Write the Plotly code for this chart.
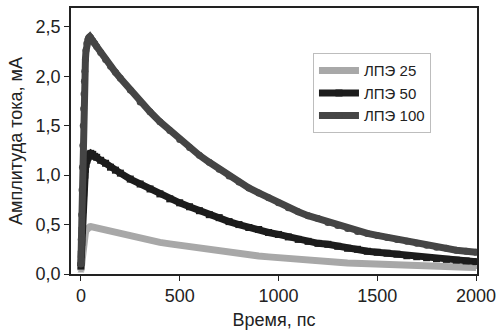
import plotly.graph_objects as go

time_ps = [0, 2, 4, 6, 8, 10, 12, 14, 16, 18, 20, 23, 26, 30, 35, 40, 45, 50,
           60, 70, 80, 100, 125, 150, 175, 200, 250, 300, 350, 400, 450, 500,
           550, 600, 650, 700, 750, 800, 850, 900, 950, 1000, 1050, 1100, 1150,
           1200, 1250, 1300, 1350, 1400, 1450, 1500, 1550, 1600, 1650, 1700,
           1750, 1800, 1850, 1900, 1950, 2000]

let_100 = [0.10, 0.35, 0.60, 0.85, 1.08, 1.30, 1.50, 1.67, 1.82, 1.95, 2.05, 2.17,
           2.26, 2.33, 2.37, 2.39, 2.40, 2.39,
           2.36, 2.33, 2.30, 2.24, 2.17, 2.10, 2.04, 1.98, 1.86, 1.74, 1.64, 1.54,
           1.45, 1.36, 1.28, 1.20, 1.13, 1.06, 0.99, 0.93, 0.87, 0.82, 0.77, 0.72,
           0.67, 0.63, 0.59, 0.56, 0.52, 0.49, 0.46, 0.43, 0.41, 0.39, 0.37, 0.35,
           0.33, 0.31, 0.29, 0.27, 0.26, 0.24, 0.23, 0.22]

let_50 = [0.08, 0.20, 0.32, 0.44, 0.55, 0.65, 0.74, 0.82, 0.89, 0.95, 1.00, 1.06,
          1.11, 1.15, 1.18, 1.20, 1.21, 1.22,
          1.21, 1.19, 1.18, 1.15, 1.12, 1.08, 1.05, 1.02, 0.96, 0.91, 0.86, 0.81,
          0.76, 0.72, 0.68, 0.64, 0.60, 0.57, 0.53, 0.50, 0.47, 0.45, 0.42, 0.40,
          0.375, 0.35, 0.33, 0.31, 0.30, 0.28, 0.26, 0.25, 0.23, 0.22, 0.21, 0.20,
          0.185, 0.175, 0.165, 0.155, 0.148, 0.14, 0.132, 0.125]

let_25 = [0.03, 0.08, 0.13, 0.18, 0.22, 0.26, 0.30, 0.33, 0.36, 0.38, 0.40, 0.42,
          0.44, 0.455, 0.465, 0.473, 0.478, 0.48,
          0.475, 0.47, 0.464, 0.453, 0.44, 0.43, 0.417, 0.405, 0.38, 0.36, 0.34,
          0.32, 0.305, 0.29, 0.27, 0.257, 0.243, 0.23, 0.217, 0.205, 0.194, 0.183,
          0.173, 0.163, 0.155, 0.147, 0.139, 0.132, 0.125, 0.118, 0.112, 0.107,
          0.102, 0.097, 0.093, 0.089, 0.085, 0.081, 0.078, 0.075, 0.072, 0.07,
          0.068, 0.066]

series_names = ["ЛПЭ 25", "ЛПЭ 50", "ЛПЭ 100"]
x_tick_vals = [0, 500, 1000, 1500, 2000]
x_tick_text = ["0", "500", "1000", "1500", "2000"]
y_tick_vals = [0.0, 0.5, 1.0, 1.5, 2.0, 2.5]
y_tick_text = ["0,0", "0,5", "1,0", "1,5", "2,0", "2,5"]

fig = go.Figure()
styles = [
    (let_25, "#a8a8a8", "triangle-up", 6),
    (let_50, "#1c1c1c", "square", 7),
    (let_100, "#454545", "circle", 7),
]
for name, (vals, col, sym, ms) in zip(series_names, styles):
    fig.add_trace(go.Scatter(
        x=time_ps, y=vals, name=name, mode="lines+markers",
        line=dict(color=col, width=7),
        marker=dict(color=col, symbol=sym, size=ms),
    ))

font_family = "Liberation Sans, Arial, sans-serif"
fig.update_layout(
    template="none",
    width=496, height=332,
    margin=dict(l=71, r=19, t=8, b=58),
    paper_bgcolor="white", plot_bgcolor="white",
    font=dict(family=font_family, size=18, color="#222222"),
    showlegend=True,
    legend=dict(
        x=0.596, y=0.83, xanchor="left", yanchor="top",
        bordercolor="#bdbdbd", borderwidth=1, bgcolor="white",
        font=dict(family=font_family, size=15, color="#222222"),
        itemwidth=40, tracegroupgap=0,
    ),
    xaxis=dict(
        range=[-50, 2005], tickvals=x_tick_vals, ticktext=x_tick_text,
        showgrid=False, zeroline=False, showline=True, linecolor="#222222",
        linewidth=1.5, mirror=True, ticks="outside", ticklen=5,
        tickcolor="#222222", automargin=False, ticklabeloverflow="allow",
        tickfont=dict(size=18),
        title=dict(text="Время, пс", font=dict(size=18), standoff=8),
    ),
    yaxis=dict(
        range=[0, 2.69], tickvals=y_tick_vals, ticktext=y_tick_text,
        showgrid=False, zeroline=False, showline=True, linecolor="#222222",
        linewidth=1.5, mirror=True, ticks="outside", ticklen=5,
        tickcolor="#222222", automargin=False, ticklabeloverflow="allow",
        tickfont=dict(size=18),
        title=dict(text="Амплитуда тока, мА", font=dict(size=18), standoff=8),
    ),
)

fig.write_html(
    "out.html",
    config={"displayModeBar": False},
    post_script="document.body.style.margin='0';document.body.style.overflow='hidden';",
)
